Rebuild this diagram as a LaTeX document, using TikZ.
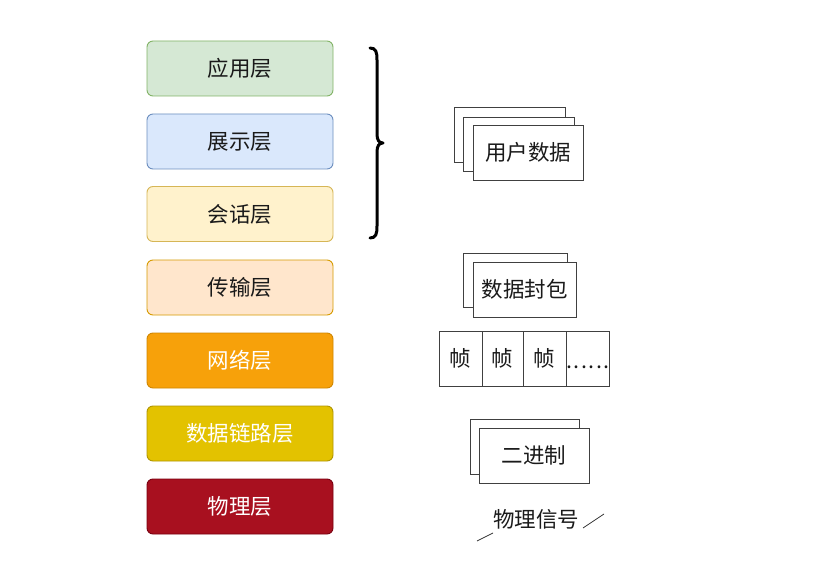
\documentclass[tikz,border=0pt]{standalone}
\usepackage{fontspec}
\setmainfont{Noto Sans CJK SC}
\definecolor{gF}{HTML}{D5E8D4}\definecolor{gS}{HTML}{82B366}
\definecolor{bF}{HTML}{DAE8FC}\definecolor{bS}{HTML}{6C8EBF}
\definecolor{yF}{HTML}{FFF2CC}\definecolor{yS}{HTML}{D6B656}
\definecolor{oF}{HTML}{FFE6CC}\definecolor{oS}{HTML}{D79B00}
\definecolor{nF}{HTML}{F7A10A}\definecolor{nS}{HTML}{D08600}
\definecolor{dF}{HTML}{E3C200}\definecolor{dS}{HTML}{B09500}
\definecolor{pF}{HTML}{A8101F}\definecolor{pS}{HTML}{7A0010}
\definecolor{txt}{HTML}{1A1A1A}
\newcommand{\mydots}{.\kern1.5pt.\kern1.5pt.\kern1.5pt.\kern1.5pt.\kern1.5pt.}
\begin{document}
\begin{tikzpicture}[x=1pt,y=-1pt,
  layer/.style={draw=#1, rounded corners=6pt, line width=0.9pt, minimum width=186pt, minimum height=55pt, inner sep=0pt, font=\fontsize{21.5}{25}\selectfont},
  card/.style={draw=black!75, fill=white, line width=0.9pt, inner sep=0pt},
  lbl/.style={font=\fontsize{21.5}{25}\selectfont, text=txt}]
\useasboundingbox (0,0) rectangle (830,564);
\fill[white] (0,0) rectangle (830,564);
% layers
\node[layer=gS, fill=gF, text=txt] (app) at (240,68.5) {应用层};
\node[layer=bS, fill=bF, text=txt] (pre) at (240,141.5) {展示层};
\node[layer=yS, fill=yF, text=txt] (ses) at (240,214) {会话层};
\node[layer=oS, fill=oF, text=txt] (tra) at (240,287.5) {传输层};
\node[layer=nS, fill=nF, text=white] (net) at (240,360.5) {网络层};
\node[layer=dS, fill=dF, text=white] (dl) at (240,433.5) {数据链路层};
\node[layer=pS, fill=pF, text=white] (phy) at (240,506.5) {物理层};
% brace
\draw[line width=3pt, line cap=round, line join=round] (370,48) .. controls (376,48) and (377,52) .. (377,60)
  -- (377,134) .. controls (377,140) and (379,143) .. (383,143)
  .. controls (379,143) and (377,146) .. (377,152)
  -- (377,226) .. controls (377,234) and (376,238) .. (370,238);
% user data stack
\node[card, minimum width=111pt, minimum height=55pt] (u1) at (509.5,134.5) {};
\node[card, minimum width=111pt, minimum height=54pt] (u2) at (518.5,144) {};
\node[card, minimum width=110pt, minimum height=55pt, lbl] (u3) at (528,152.5) {用户数据};
% packet
\node[card, minimum width=104pt, minimum height=54pt] (p1) at (515,280) {};
\node[card, minimum width=103pt, minimum height=55pt, lbl] (p2) at (524.5,289.5) {数据封包};
% frames
\node[card, minimum width=43pt, minimum height=55pt, lbl] (f1) at (460.5,358.5) {帧};
\node[card, minimum width=41pt, minimum height=55pt, lbl] (f2) at (502.5,358.5) {帧};
\node[card, minimum width=43pt, minimum height=55pt, lbl] (f3) at (544.5,358.5) {帧};
\node[card, minimum width=43pt, minimum height=55pt] (f4) at (587.5,358.5) {};
\node[lbl, anchor=base] (dots) at (588,368) {\mydots};
% binary
\node[card, minimum width=109pt, minimum height=55pt] (b1) at (524.5,446.5) {};
\node[card, minimum width=110pt, minimum height=55pt, lbl] (b2) at (534,455.5) {二进制};
% physical signal
\node[lbl] (sig) at (536,519) {物理信号};
\coordinate (l1) at (477,541); \coordinate (l2) at (493,533);
\coordinate (r1) at (583,528); \coordinate (r2) at (604,514);
\draw[line width=0.8pt, black!80] (l1) -- (l2);
\draw[line width=0.8pt, black!80] (r1) -- (r2);
\end{tikzpicture}
\end{document}
